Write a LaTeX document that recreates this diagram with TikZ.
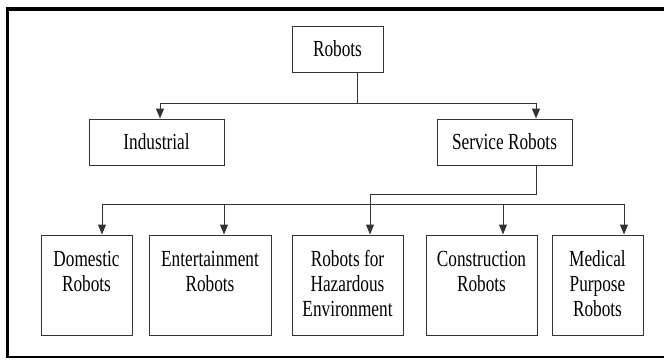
\documentclass[tikz,border=0pt]{standalone}
\usepackage{fontspec}
\setmainfont[FakeStretch=0.75]{Liberation Serif}
\usetikzlibrary{arrows.meta}
\tikzset{
  box/.style={rectangle, draw=black!80, line width=1pt, inner sep=0pt, align=center, font=\fontsize{23}{25}\selectfont},
  topbox/.style={box, minimum height=46pt},
  leafbox/.style={box, minimum height=100pt},
  twolines/.style={text height=56pt, text depth=44pt},
  threelines/.style={text height=81pt, text depth=19pt},
  link/.style={draw=black!80, line width=1pt},
  arr/.style={link, -{Triangle[length=10pt,width=8pt]}},
}
\begin{document}
\begin{tikzpicture}[x=1pt,y=-1pt]
\useasboundingbox (0,0) rectangle (664,360);
\draw[line width=4pt] (5.5,9) -- (664,9);
\draw[line width=3pt] (7.5,7) -- (7.5,358);
\draw[line width=2.5pt] (6,357) -- (664,357);
\node[topbox, minimum width=91pt] (robots) at (337.5,49){Robots};
\node[topbox, minimum width=135pt] (ind) at (156.5,142){Industrial};
\node[topbox, minimum width=135pt] (serv) at (504.5,142){Service Robots};
\node[leafbox, twolines, minimum width=91pt] (dom) at (86.5,285){Domestic\\Robots};
\node[leafbox, twolines, minimum width=122pt] (ent) at (210,285){Entertainment\\Robots};
\node[leafbox, threelines, minimum width=111pt] (haz) at (347.5,285){Robots for\\Hazardous\\Environment};
\node[leafbox, twolines, minimum width=111pt] (con) at (481.5,285){Construction\\Robots};
\node[leafbox, threelines, minimum width=91pt] (med) at (597.5,285){Medical\\Purpose\\Robots};
\coordinate (j0) at (357,103);
\coordinate (j1) at (370,194);
\coordinate (busL) at (102,204);
\coordinate (busR) at (624,204);
\draw[link] (robots.south -| j0) -- (j0);
\draw[arr] (j0) -| ([xshift=3.5pt]ind.north);
\draw[arr] (j0) -| ([xshift=31.5pt]serv.north);
\draw[link] ([xshift=31.5pt]serv.south) |- (j1);
\draw[arr] (j1) -- (haz.north -| j1);
\draw[link] (busL) -- (busR);
\draw[arr] (busL) -- (dom.north -| busL);
\draw[arr] (busL -| 224,0) -- ([xshift=14pt]ent.north);
\draw[arr] (busL -| 503,0) -- ([xshift=21.5pt]con.north);
\draw[arr] (busR) -- (med.north -| busR);
\end{tikzpicture}
\end{document}
